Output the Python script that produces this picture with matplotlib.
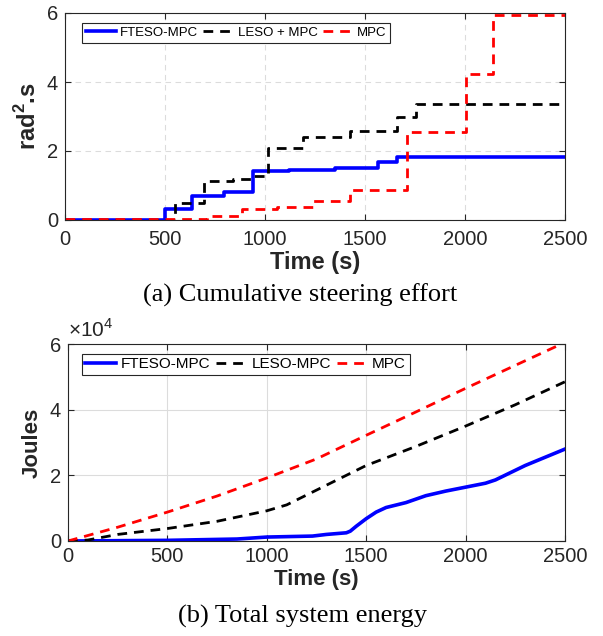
import matplotlib
matplotlib.use("Agg")
import matplotlib.pyplot as plt
import numpy as np

plt.rcParams['font.family'] = ['Liberation Sans', 'DejaVu Sans']
plt.rcParams['mathtext.fontset'] = 'custom'
plt.rcParams['mathtext.rm'] = 'Liberation Sans'
plt.rcParams['mathtext.bf'] = 'Liberation Sans:bold'

# ---- (a) cumulative steering effort (rad^2.s), step data ----
fteso_t = [0, 500, 635, 797, 938, 1118, 1350, 1567, 1662, 2500]
fteso_v = [0, 0.31, 0.70, 0.80, 1.43, 1.46, 1.51, 1.67, 1.83, 1.83]
leso_t = [0, 550, 695, 842, 942, 1013, 1192, 1425, 1658, 1755, 2500]
leso_v = [0, 0.50, 1.14, 1.19, 1.28, 2.08, 2.40, 2.59, 2.99, 3.35, 3.35]
mpc_t = [0, 708, 883, 1058, 1242, 1425, 1708, 2005, 2138, 2500]
mpc_v = [0.02, 0.12, 0.31, 0.38, 0.56, 0.87, 2.54, 4.23, 5.94, 5.94]

# ---- (b) total system energy (Joules) ----
e_fteso_t = [0, 500, 850, 1000, 1230, 1300, 1400, 1420, 1450, 1500, 1550, 1600, 1700, 1800, 1900, 2000, 2100, 2150, 2300, 2500]
e_fteso_v = [0, 200, 600, 1200, 1500, 2000, 2500, 3000, 4500, 6800, 8800, 10200, 11700, 13800, 15200, 16400, 17600, 18600, 23000, 28000]
e_leso_t = [0, 100, 250, 500, 750, 1000, 1100, 1200, 1300, 1400, 1500, 1750, 2000, 2250, 2500]
e_leso_v = [0, 300, 2000, 3800, 6000, 9200, 11000, 14000, 17000, 20000, 23000, 28800, 35000, 41500, 48500]
e_mpc_t = [0, 250, 500, 750, 1000, 1250, 1500, 1750, 2000, 2250, 2500]
e_mpc_v = [0, 4200, 8800, 13700, 19200, 25000, 32200, 39300, 46500, 53500, 60500]

labels_a = ['FTESO-MPC', 'LESO + MPC', 'MPC']
labels_b = ['FTESO-MPC', 'LESO-MPC', 'MPC']
xticks = [0, 500, 1000, 1500, 2000, 2500]

W, H = 603, 636
fig = plt.figure(figsize=(W / 100, H / 100), dpi=100)

def ax_rect(l, t, r, b):
    return [l / W, 1 - b / H, (r - l) / W, (b - t) / H]

A1 = (65, 13, 565, 220)
A2 = (68, 344, 565, 541)
ax1 = fig.add_axes(ax_rect(*A1))
ax2 = fig.add_axes(ax_rect(*A2))

blue = '#0000ff'
red = '#ff0000'
tc = '#262626'

def style(ax, gridls, xpad):
    ax.set_xlim(0, 2500)
    ax.set_xticks(xticks)
    ax.tick_params(direction='in', top=True, right=True, labelsize=14.5,
                   colors=tc, length=4, width=0.8)
    ax.tick_params(axis='x', pad=xpad)
    ax.tick_params(axis='y', pad=5)
    for s in ax.spines.values():
        s.set_color(tc)
        s.set_linewidth(0.8)
    ax.grid(True, color='#dcdcdc', linestyle=gridls, linewidth=0.8)
    ax.set_axisbelow(True)

def place_xlabel(ax, rect, ypix):
    l, t, r, b = rect
    ax.xaxis.set_label_coords(0.5, (b - ypix) / (b - t))
    ax.xaxis.label.set_va('center')

dash = (3.5, 2.5)

ax1.step(fteso_t, fteso_v, where='post', color=blue, lw=2.6, label=labels_a[0])
ax1.step(leso_t, leso_v, where='post', color='black', lw=2.0, linestyle=(0, dash), label=labels_a[1])
ax1.step(mpc_t, mpc_v, where='post', color=red, lw=2.0, linestyle=(0, dash), label=labels_a[2])
style(ax1, (0, (5, 4)), 7)
ax1.set_ylim(0, 6)
ax1.set_yticks([0, 2, 4, 6])
ax1.set_xlabel('Time (s)', fontsize=17, fontweight='bold', color=tc)
place_xlabel(ax1, A1, 263)
ax1.set_ylabel(r'rad$^{\mathbf{2}}$.s', fontsize=17, fontweight='bold', color=tc, labelpad=4)
leg1 = ax1.legend(loc='upper left', ncol=3, fontsize=9.5, handlelength=2.3,
                  columnspacing=0.4, handletextpad=0.3, borderpad=0.3,
                  fancybox=False, edgecolor=tc, framealpha=1,
                  bbox_to_anchor=(0.02, 0.985))
leg1.get_frame().set_linewidth(0.8)

ax2.plot(e_fteso_t, e_fteso_v, color=blue, lw=2.6, label=labels_b[0])
ax2.plot(e_leso_t, e_leso_v, color='black', lw=2.0, linestyle=(0, dash), label=labels_b[1])
ax2.plot(e_mpc_t, e_mpc_v, color=red, lw=2.0, linestyle=(0, dash), label=labels_b[2])
style(ax2, '-', 4.5)
ax2.set_ylim(0, 60000)
ax2.set_yticks([0, 20000, 40000, 60000])
ax2.set_yticklabels(['0', '2', '4', '6'])
ax2.text(0.0, 1.015, r'$\times10^{4}$', transform=ax2.transAxes, fontsize=15,
         color=tc, ha='left', va='bottom')
ax2.set_xlabel('Time (s)', fontsize=16, fontweight='bold', color=tc)
place_xlabel(ax2, A2, 580)
ax2.set_ylabel('Joules', fontsize=16, fontweight='bold', color=tc, labelpad=5)
leg2 = ax2.legend(loc='upper left', ncol=3, fontsize=11, handlelength=2.0,
                  columnspacing=0.4, handletextpad=0.3, borderpad=0.25,
                  fancybox=False, edgecolor=tc, framealpha=1,
                  bbox_to_anchor=(0.012, 0.99))
leg2.get_frame().set_linewidth(0.8)

fig.text(300 / W, 1 - 295 / H, '(a) Cumulative steering effort', fontsize=19,
         family=['Liberation Serif'], ha='center', va='center', color='black')
fig.text(302 / W, 1 - 616 / H, '(b) Total system energy', fontsize=19,
         family=['Liberation Serif'], ha='center', va='center', color='black')

fig.savefig('out.png', dpi=100)
